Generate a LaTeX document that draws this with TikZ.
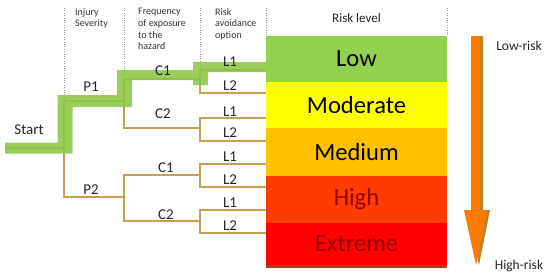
\documentclass[tikz,border=0pt]{standalone}
\usepackage{fontspec}
\setmainfont{Carlito}
\usetikzlibrary{positioning}

\definecolor{branchc}{RGB}{198,160,80}
\definecolor{pathgreen}{RGB}{140,198,70}
\definecolor{lowc}{RGB}{146,208,80}
\definecolor{modc}{RGB}{255,255,0}
\definecolor{medc}{RGB}{255,192,0}
\definecolor{highc}{RGB}{255,60,0}
\definecolor{extc}{RGB}{255,0,0}
\definecolor{edgec}{RGB}{175,60,20}
\definecolor{darkred}{RGB}{150,0,0}
\definecolor{arrowc}{RGB}{255,122,0}
\definecolor{shadowc}{RGB}{190,130,40}

\tikzset{
branch/.style={draw=branchc,line width=1.2pt},
sep/.style={draw=gray!80,dotted,thin},
lab/.style={font=\fontsize{15}{17}\selectfont,text=black!85,inner sep=0pt},
hdr/.style={font=\fontsize{10}{11.7}\selectfont,text=black!80,align=left,anchor=north west,inner sep=0pt},
level/.style={minimum width=181pt,inner sep=0pt,outer sep=0pt,font=\fontsize{24.6}{28}\selectfont},
}

\begin{document}
\begin{tikzpicture}[x=1pt,y=-1pt]
\useasboundingbox (0,0) rectangle (550,277);

\draw[sep] (64,8) -- (64,101);
\draw[sep] (124,8) -- (124,79);
\draw[sep] (200,8) -- (200,70);
\draw[sep] (266,8) -- (266,36);
\draw[sep] (447,8) -- (447,36);

\node[hdr] (sev) at (75,8) {Injury\\Severity};
\node[hdr] (freq) at (138,8) {Frequency\\of exposure\\to the\\hazard};
\node[hdr] (avoid) at (215,8) {Risk\\avoidance\\option};
\node[font=\fontsize{13}{15}\selectfont,text=black!85] (lvl) at (356.5,18) {Risk level};

\coordinate (start) at (5,148);
\coordinate (root) at (64,148);
\coordinate (j1) at (124,101);
\coordinate (j2) at (124,197);
\coordinate (j11) at (200,79);
\coordinate (j12) at (200,128);
\coordinate (j21) at (200,175);
\coordinate (j22) at (200,221);
\coordinate (l111) at (266,70);
\coordinate (l112) at (266,93);
\coordinate (l121) at (266,118);
\coordinate (l122) at (266,141);
\coordinate (l211) at (266,164);
\coordinate (l212) at (266,187);
\coordinate (l221) at (266,210);
\coordinate (l222) at (266,233);

\draw[branch] (start) -- (root);
\draw[branch] (j1) -| (root) |- (j2);
\draw[branch] (j11) -| (j1) |- (j12);
\draw[branch] (j21) -| (j2) |- (j22);
\draw[branch] (l111) -| (j11) |- (l112);
\draw[branch] (l121) -| (j12) |- (l122);
\draw[branch] (l211) -| (j21) |- (l212);
\draw[branch] (l221) -| (j22) |- (l222);

\fill[pathgreen,opacity=0.88] (5,142.5) -- (57.5,142.5) -- (57.5,95) -- (117,95) -- (117,70) -- (193,70) -- (193,62) -- (266,62) -- (266,72) -- (208,72) -- (208,85) -- (193,85) -- (193,80) -- (132,80) -- (132,107) -- (72.5,107) -- (72.5,153.5) -- (5,153.5) -- cycle;

\node[lab] (st) at (29,130) {Start};
\node[lab] (p1) at (91,87) {P1};
\node[lab] (p2) at (91,190) {P2};
\node[lab] (c11) at (163,71) {C1};
\node[lab] (c12) at (163,114) {C2};
\node[lab] (c21) at (166,168) {C1};
\node[lab] (c22) at (166,215) {C2};
\node[lab] (a111) at (230,62) {L1};
\node[lab] (a112) at (230,86) {L2};
\node[lab] (a121) at (230,112) {L1};
\node[lab] (a122) at (230,133) {L2};
\node[lab] (a211) at (230,157) {L1};
\node[lab] (a212) at (230,180) {L2};
\node[lab] (a221) at (230,203) {L1};
\node[lab] (a222) at (230,226) {L2};

\node[level,fill=lowc,minimum height=46pt,anchor=north west] (low) at (266,36) {Low};
\node[level,fill=modc,minimum height=46pt,below=0pt of low] (moderate) {Moderate};
\node[level,fill=medc,minimum height=48pt,below=0pt of moderate] (medium) {Medium};
\node[level,fill=highc,minimum height=47pt,below=0pt of medium,text=darkred] (high) {High};
\node[level,fill=extc,minimum height=42pt,below=0pt of high,text=darkred] (extreme) {Extreme};
\fill[edgec] (extreme.south west) rectangle ([yshift=-3pt]extreme.south east);

\fill[shadowc] (474,36) -- (483,36) -- (483,210) -- (490,210) -- (479,265) -- (467,210) -- (474,210) -- cycle;
\fill[arrowc] (471,36) -- (480,36) -- (480,210) -- (487,210) -- (476,265) -- (464,210) -- (471,210) -- cycle;

\node[font=\fontsize{13.5}{15}\selectfont,text=black!85] (lowrisk) at (519,46) {Low-risk};
\node[font=\fontsize{13.5}{15}\selectfont,text=black!85] (highrisk) at (519,266) {High-risk};

\end{tikzpicture}
\end{document}
